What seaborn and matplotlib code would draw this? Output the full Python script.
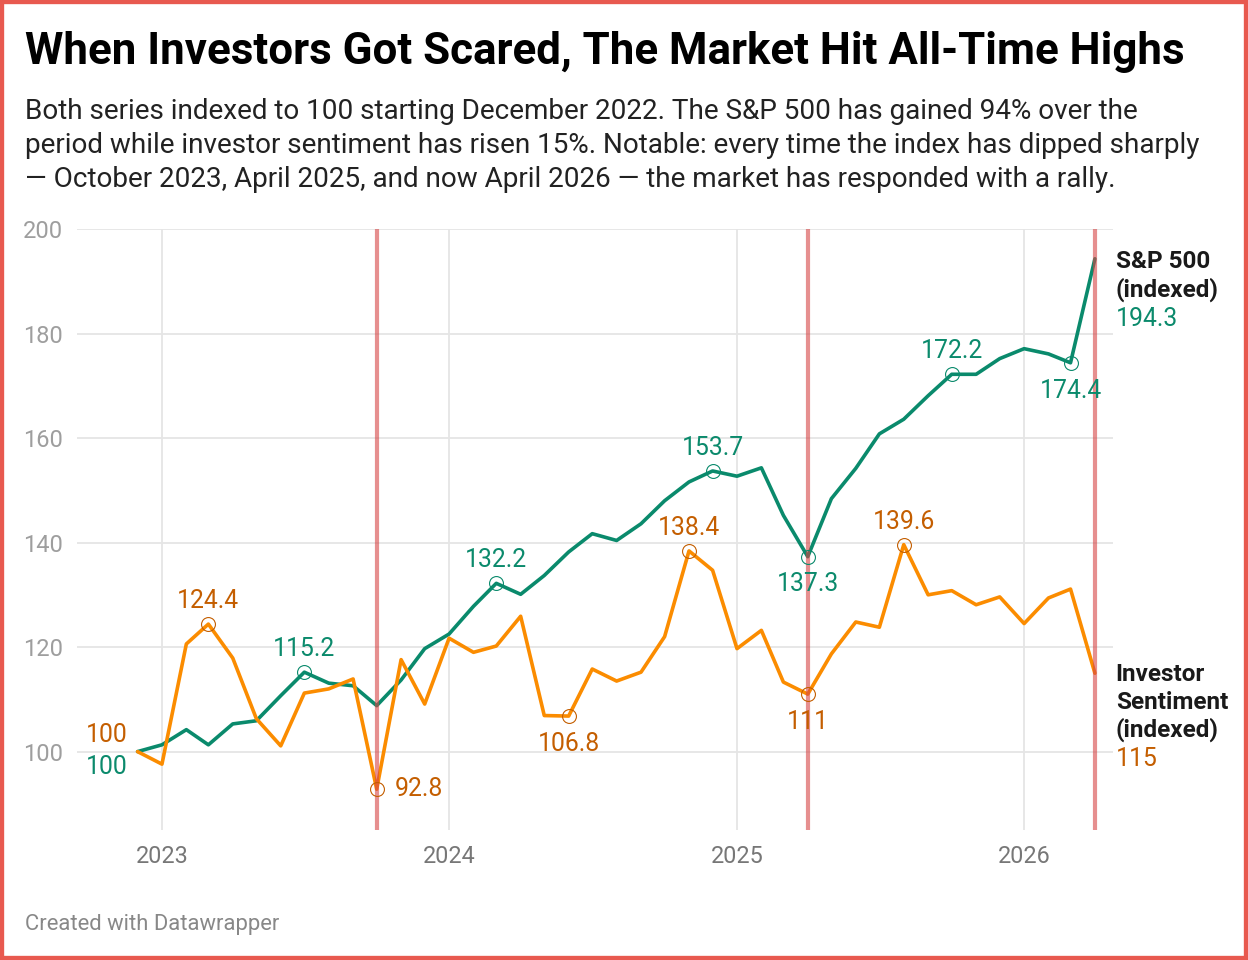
import matplotlib
matplotlib.use('Agg')
import matplotlib.pyplot as plt
from matplotlib.patches import Rectangle
import seaborn as sns
import pandas as pd
import numpy as np

# monthly values, Dec 2022 .. Apr 2026, both indexed to 100
months = pd.date_range('2022-12-01', periods=41, freq='MS')
sp500 = [100, 101.3, 104.2, 101.3, 105.3, 105.9, 110.7, 115.2, 113.1, 112.6, 108.8,
         113.7, 119.7, 122.5, 127.8, 132.2, 130.1, 133.7, 138.2, 141.7, 140.4, 143.6,
         148.0, 151.6, 153.7, 152.7, 154.3, 145.2, 137.3, 148.4, 154.2, 160.8, 163.6,
         168.1, 172.2, 172.2, 175.2, 177.1, 176.1, 174.4, 194.3]
sentiment = [100, 97.6, 120.6, 124.4, 117.9, 106.3, 101.1, 111.2, 112.0, 113.9, 92.8,
             117.6, 109.1, 121.7, 119.0, 120.2, 125.9, 106.9, 106.8, 115.8, 113.5, 115.2,
             122.0, 138.4, 134.7, 119.7, 123.2, 113.3, 111.0, 118.7, 124.8, 123.8, 139.6,
             130.0, 130.8, 128.1, 129.6, 124.5, 129.4, 131.1, 115]
series_names = ['S&P 500 (indexed)', 'Investor Sentiment (indexed)']

# dips marked by red lines
event_dates = ['2023-10-01', '2025-04-01', '2026-04-01']

# highlighted points: (month index, above/below)
sp_marks = [(7, 'above'), (15, 'above'), (24, 'above'), (28, 'below'), (34, 'above'), (39, 'below')]
sent_marks = [(3, 'above'), (10, 'right'), (18, 'below'), (23, 'above'), (28, 'below'), (32, 'above')]

green = '#0a8a6c'
orange = '#fb8c00'
green_txt = '#0b8a6c'
orange_txt = '#c45e00'

df = pd.DataFrame({
    'month': np.concatenate([months, months]),
    'value': sp500 + sentiment,
    'series': [series_names[0]] * len(months) + [series_names[1]] * len(months),
})

sns.set_theme(style='white')
plt.rcParams['font.family'] = ['Roboto', 'DejaVu Sans']

fig = plt.figure(figsize=(12.48, 9.6), dpi=100)
ax = fig.add_axes([77 / 1248, 1 - 830 / 960, (1113 - 77) / 1248, (830 - 229) / 960])

sns.lineplot(data=df, x='month', y='value', hue='series',
             palette={series_names[0]: green, series_names[1]: orange},
             linewidth=2.6, legend=False, ax=ax, zorder=3)

ax.set_xlim(pd.Timestamp('2022-09-15'), pd.Timestamp('2026-04-24'))
ax.set_ylim(85, 200)
ax.set_yticks([100, 120, 140, 160, 180, 200])
years = pd.to_datetime(['2023-01-01', '2024-01-01', '2025-01-01', '2026-01-01'])
ax.set_xticks(years)
ax.set_xticklabels(['2023', '2024', '2025', '2026'])
ax.grid(True, color='#e5e5e5', linewidth=1.3, zorder=0)
for s in ax.spines.values():
    s.set_visible(False)
ax.tick_params(axis='y', length=0, pad=10, labelsize=17, labelcolor='#9e9e9e')
ax.tick_params(axis='x', length=0, pad=11, labelsize=16.8, labelcolor='#777777')
ax.set_xlabel('')
ax.set_ylabel('')

for d in event_dates:
    ax.axvline(pd.Timestamp(d), color='#d64545', alpha=0.6, linewidth=3, zorder=5)

def mark(idx, vals, where, lc, tc):
    x = months[idx]
    y = vals[idx]
    ax.plot([x], [y], marker='o', markersize=10, markerfacecolor='none',
            markeredgecolor=lc, markeredgewidth=0.8, zorder=6)
    off = {'above': (0, 16.5), 'below': (0, -20), 'right': (13, 0)}[where]
    ha = 'left' if where == 'right' else 'center'
    ax.annotate(f'{y:g}', (x, y), xytext=off, textcoords='offset points',
                ha=ha, va='center', fontsize=17.8, color=tc, zorder=7)

for idx, where in sp_marks:
    mark(idx, sp500, where, green, green_txt)
for idx, where in sent_marks:
    mark(idx, sentiment, where, '#c45e00', orange_txt)

# start values
ax.annotate(f'{sp500[0]:g}', (months[0], sp500[0]), xytext=(-22, -11), textcoords='offset points',
            ha='center', va='center', fontsize=17.8, color=green_txt)
ax.annotate(f'{sentiment[0]:g}', (months[0], sentiment[0]), xytext=(-22, 12), textcoords='offset points',
            ha='center', va='center', fontsize=17.8, color=orange_txt)

# end labels
sp_lines = ['S&P 500', '(indexed)']
for k, t in enumerate(sp_lines):
    ax.annotate(t, (months[-1], sp500[-1]), xytext=(15, -2 - 20 * k), textcoords='offset points',
                ha='left', va='center', fontsize=17.5, fontweight='bold', color='#1a1a1a',
                annotation_clip=False)
ax.annotate(f'{sp500[-1]:g}', (months[-1], sp500[-1]), xytext=(15, -2 - 20 * len(sp_lines) - 1),
            textcoords='offset points', ha='left', va='center', fontsize=17.8, color=green_txt,
            annotation_clip=False)
sent_lines = ['Investor', 'Sentiment', '(indexed)']
for k, t in enumerate(sent_lines):
    ax.annotate(t, (months[-1], sentiment[-1]), xytext=(15, -1 - 20 * k), textcoords='offset points',
                ha='left', va='center', fontsize=17.5, fontweight='bold', color='#1a1a1a',
                annotation_clip=False)
ax.annotate(f'{sentiment[-1]:g}', (months[-1], sentiment[-1]), xytext=(15, -1 - 20 * len(sent_lines) - 1),
            textcoords='offset points', ha='left', va='center', fontsize=17.8, color=orange_txt,
            annotation_clip=False)

# header and footer
fig.text(25 / 1248, 1 - 64 / 960, 'When Investors Got Scared, The Market Hit All-Time Highs',
         fontsize=31.6, fontweight='bold', color='#000000', va='baseline')
subtitle = ['Both series indexed to 100 starting December 2022. The S&P 500 has gained 94% over the',
            'period while investor sentiment has risen 15%. Notable: every time the index has dipped sharply',
            '\u2014 October 2023, April 2025, and now April 2026 \u2014 the market has responded with a rally.']
for k, line in enumerate(subtitle):
    fig.text(25 / 1248, 1 - (119 + 34 * k) / 960, line, fontsize=20.1, color='#222222', va='baseline')
fig.text(25 / 1248, 1 - 930 / 960, 'Created with Datawrapper', fontsize=15.8, color='#888888', va='baseline')

fig.patches.append(Rectangle((0, 0), 1, 1, transform=fig.transFigure, fill=False,
                             edgecolor='#e8594f', linewidth=6, zorder=10))

fig.savefig('out.png', dpi=100, facecolor='white')
